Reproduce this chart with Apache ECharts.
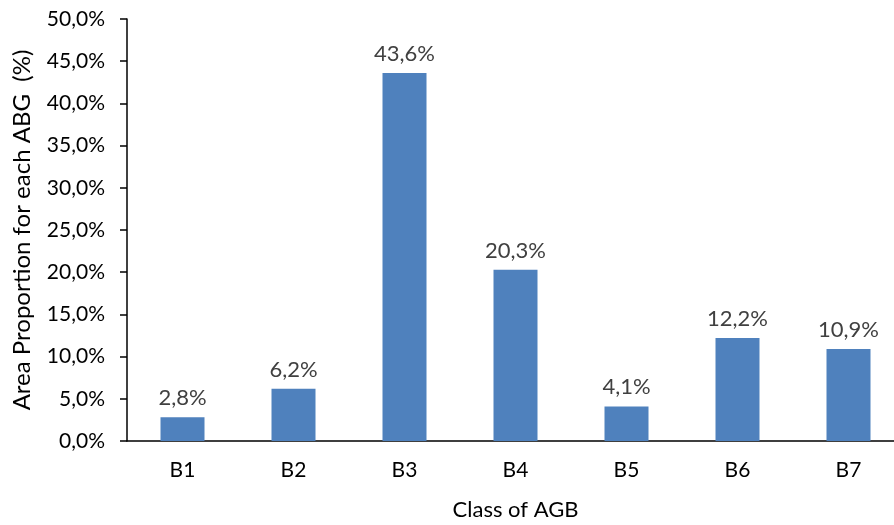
<!DOCTYPE html>
<html><head><meta charset="utf-8">
<script src="https://cdn.jsdelivr.net/npm/echarts@6/dist/echarts.min.js"></script>
<style>html,body{margin:0;padding:0;background:#fff}#c{width:894px;height:525px}</style>
</head><body><div id="c"></div>
<script>
const categories = ['B1','B2','B3','B4','B5','B6','B7'];
const values = [2.8, 6.2, 43.6, 20.3, 4.1, 12.2, 10.9];
const yTicks = [0,5,10,15,20,25,30,35,40,45,50];
const fmt = v => v.toFixed(1).replace('.', ',') + '%';
const font = 'Lato, "Open Sans", sans-serif';
const chart = echarts.init(document.getElementById('c'), null, {renderer:'canvas'});
chart.setOption({
  animation:false,
  grid:{left:127, right:-10, top:19, bottom:84, containLabel:false, outerBoundsMode:'none'},
  xAxis:{type:'category', data:categories,
    axisLine:{lineStyle:{color:'#000', width:1.5}},
    axisTick:{show:false},
    axisLabel:{color:'#000', fontSize:21, fontFamily:font, margin:19},
    name:'Class of AGB', nameLocation:'middle', nameGap:58,
    nameTextStyle:{color:'#000', fontSize:22, fontFamily:font}
  },
  yAxis:{type:'value', min:yTicks[0], max:yTicks[yTicks.length-1], interval:5,
    axisLine:{show:true, lineStyle:{color:'#000', width:1.5}},
    axisTick:{show:true, length:7, lineStyle:{color:'#000', width:1.5}},
    splitLine:{show:false},
    axisLabel:{color:'#000', fontSize:21, fontFamily:font, margin:22, formatter:fmt},
    name:'Area Proportion for each ABG  (%)', nameLocation:'middle', nameGap:93,
    nameTextStyle:{color:'#000', fontSize:24, fontFamily:font}
  },
  series:[{type:'bar', data:values, barWidth:44,
    itemStyle:{color:'#4F81BD'},
    label:{show:true, position:'top', distance:8, color:'#404040', fontSize:22, fontFamily:font,
      formatter:p=>fmt(p.value)}
  }]
});
</script></body></html>
